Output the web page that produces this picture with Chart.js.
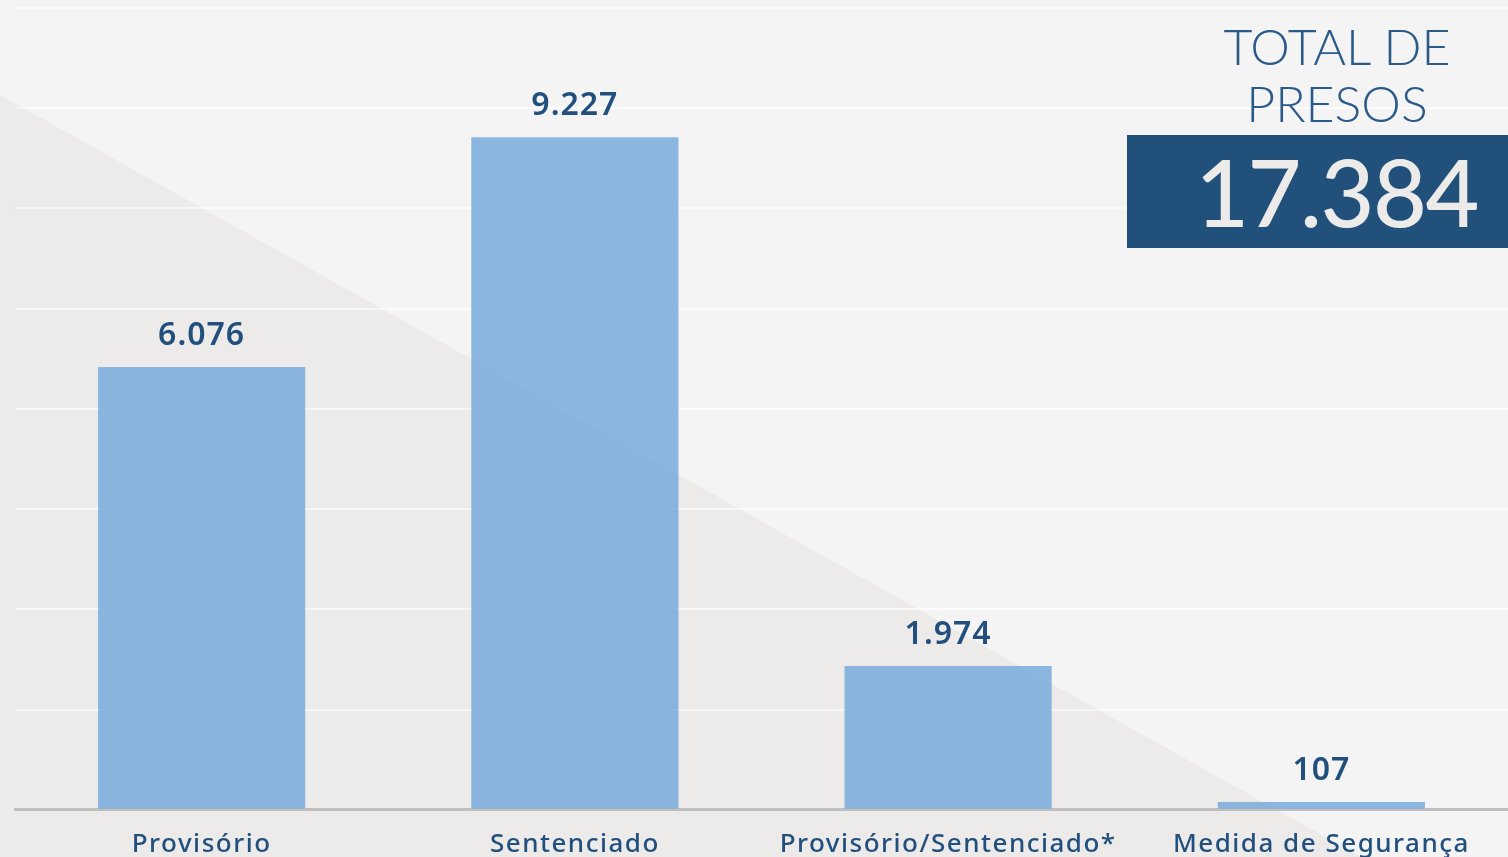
<!DOCTYPE html>
<html lang="pt-BR">
<head>
<meta charset="utf-8">
<title>Total de presos</title>
<script src="https://cdn.jsdelivr.net/npm/chart.js@4.4.1/dist/chart.umd.min.js"></script>
<style>
  html, body { margin: 0; padding: 0; background: #f4f4f4; overflow: hidden; }
  #wrap { position: relative; width: 1508px; height: 857px; overflow: hidden; }
  #chart { display: block; }
  .total-title {
    position: absolute; left: 997px; width: 680px; top: 18px;
    font-family: Lato, "Open Sans", sans-serif; font-weight: 300;
    font-size: 50px; line-height: 57px; color: #2a5a8a;
    text-align: center;
  }
  .total-box {
    position: absolute; left: 1127px; top: 135px; width: 381px; height: 113px;
    background: #21507a; color: #ecebea;
    font-family: Lato, "Open Sans", sans-serif; font-weight: 500;
    font-size: 93px; line-height: 113px; text-align: center;
    text-indent: 38px; letter-spacing: -1.5px;
  }
</style>
</head>
<body>
<div id="wrap">
  <canvas id="chart" width="1508" height="871"></canvas>
  <div class="total-title">TOTAL DE<br>PRESOS</div>
  <div class="total-box" id="total"></div>
</div>
<script>
  const categories = ["Provisório", "Sentenciado", "Provisório/Sentenciado*", "Medida de Segurança"];
  const presos = [6076, 9227, 1974, 107];
  const axisMax = 11000;

  const barColor = "rgba(119, 170, 219, 0.85)";
  const textColor = "#22507e";

  function formatBR(n) {
    return String(n).replace(/\B(?=(\d{3})+(?!\d))/g, ".");
  }

  document.getElementById("total").textContent =
    formatBR(presos.reduce(function (a, b) { return a + b; }, 0));

  // fundo cinza com o triângulo mais escuro
  const backdrop = {
    id: "backdrop",
    beforeDraw: function (chart) {
      const ctx = chart.ctx;
      ctx.save();
      ctx.fillStyle = "#f4f4f4";
      ctx.fillRect(0, 0, chart.width, chart.height);
      ctx.fillStyle = "#ecebe9";
      ctx.beginPath();
      ctx.moveTo(0, 95);
      ctx.lineTo(1386, 871);
      ctx.lineTo(0, 871);
      ctx.closePath();
      ctx.fill();
      ctx.restore();
      ctx.letterSpacing = "1.5px";
    }
  };

  const valueLabels = {
    id: "valueLabels",
    afterDatasetsDraw: function (chart) {
      const ctx = chart.ctx;
      const meta = chart.getDatasetMeta(0);
      ctx.save();
      ctx.font = "600 32px 'Noto Sans', sans-serif";
      ctx.letterSpacing = "1px";
      ctx.fillStyle = textColor;
      ctx.textAlign = "center";
      ctx.textBaseline = "middle";
      meta.data.forEach(function (bar, i) {
        ctx.fillText(formatBR(presos[i]), bar.x, bar.y - 31);
      });
      ctx.restore();
    }
  };

  new Chart(document.getElementById("chart").getContext("2d"), {
    type: "bar",
    data: {
      labels: categories,
      datasets: [{
        data: presos,
        backgroundColor: barColor,
        borderWidth: 0,
        barPercentage: 0.555,
        categoryPercentage: 1.0
      }]
    },
    options: {
      responsive: false,
      animation: false,
      events: [],
      layout: { padding: { left: 15, top: 8, right: 0, bottom: 0 } },
      plugins: {
        legend: { display: false },
        tooltip: { enabled: false }
      },
      scales: {
        x: {
          grid: { display: false },
          border: { display: true, color: "#bfbfbf", width: 3 },
          ticks: {
            color: textColor,
            font: { family: "'Noto Sans', sans-serif", size: 26, weight: "500" },
            padding: 11,
            maxRotation: 0,
            autoSkip: false
          }
        },
        y: {
          min: 0,
          max: axisMax,
          ticks: { display: false, stepSize: axisMax / 8 },
          grid: { color: "rgba(255,255,255,0.6)", lineWidth: 2, drawTicks: false },
          border: { display: false }
        }
      }
    },
    plugins: [backdrop, valueLabels]
  });
</script>
</body>
</html>
